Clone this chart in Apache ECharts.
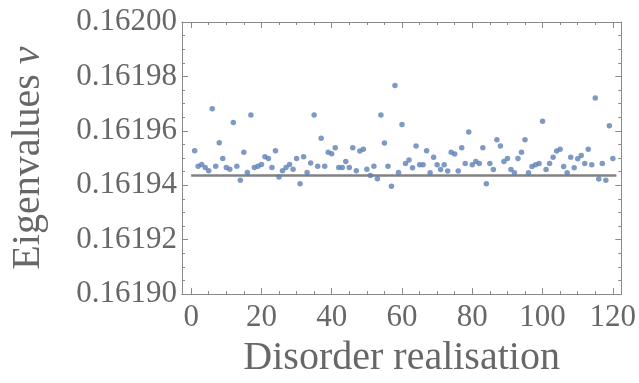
<!DOCTYPE html>
<html>
<head>
<meta charset="utf-8">
<script src="https://cdn.jsdelivr.net/npm/echarts@6/dist/echarts.min.js"></script>
<style>
  html, body { margin: 0; padding: 0; background: #fff; }
  #chart { width: 639px; height: 383px; }
</style>
</head>
<body>
<div id="chart"></div>
<script>
// eigenvalue per disorder realisation (realisations 1..120)
const eigenvalues = [
  0.1619527, 0.1619470, 0.1619476, 0.1619465, 0.1619453, 0.1619681, 0.1619470, 0.1619556, 0.1619498, 0.1619465,
  0.1619459, 0.1619631, 0.1619470, 0.1619418, 0.1619521, 0.1619447, 0.1619658, 0.1619465, 0.1619470, 0.1619476,
  0.1619505, 0.1619498, 0.1619465, 0.1619527, 0.1619430, 0.1619453, 0.1619465, 0.1619476, 0.1619459, 0.1619498,
  0.1619406, 0.1619505, 0.1619447, 0.1619482, 0.1619658, 0.1619470, 0.1619573, 0.1619470, 0.1619521, 0.1619516,
  0.1619538, 0.1619465, 0.1619465, 0.1619487, 0.1619465, 0.1619538, 0.1619453, 0.1619526, 0.1619532, 0.1619459,
  0.1619436, 0.1619470, 0.1619424, 0.1619658, 0.1619555, 0.1619470, 0.1619396, 0.1619767, 0.1619447, 0.1619623,
  0.1619480, 0.1619493, 0.1619464, 0.1619544, 0.1619475, 0.1619475, 0.1619527, 0.1619446, 0.1619503, 0.1619475,
  0.1619458, 0.1619475, 0.1619452, 0.1619521, 0.1619515, 0.1619452, 0.1619538, 0.1619480, 0.1619596, 0.1619475,
  0.1619487, 0.1619480, 0.1619538, 0.1619406, 0.1619480, 0.1619458, 0.1619567, 0.1619544, 0.1619487, 0.1619498,
  0.1619458, 0.1619446, 0.1619498, 0.1619521, 0.1619567, 0.1619446, 0.1619469, 0.1619475, 0.1619480, 0.1619635,
  0.1619458, 0.1619480, 0.1619503, 0.1619526, 0.1619532, 0.1619469, 0.1619446, 0.1619503, 0.1619464, 0.1619497,
  0.1619509, 0.1619480, 0.1619532, 0.1619475, 0.1619721, 0.1619423, 0.1619480, 0.1619418, 0.1619619, 0.1619498
];
// reference level drawn as horizontal line
const refLevel = 0.1619436;
const refSpan = [0, 121];

const xMajor = [0, 20, 40, 60, 80, 100, 120];
const xMinor = [5, 10, 15, 25, 30, 35, 45, 50, 55, 65, 70, 75, 85, 90, 95, 105, 110, 115];
const yMin = 0.16190, yMax = 0.16200, yStep = 0.00002;

const font = "'Liberation Serif', 'DejaVu Serif', serif";
const frame = '#8a8a8a';
const textCol = '#676767';

const chart = echarts.init(document.getElementById('chart'), null, { renderer: 'canvas' });

const xRange = { min: -2.6, max: 122.4 };

function xAx(pos, vals, len, showLabel, extra) {
  return Object.assign({
    type: 'value', position: pos, min: xRange.min, max: xRange.max,
    axisLine: { show: true, onZero: false, lineStyle: { color: frame, width: 1 } },
    axisTick: { show: true, inside: true, length: len, customValues: vals, lineStyle: { color: frame } },
    axisLabel: showLabel
      ? { show: true, customValues: vals, margin: 8, color: textCol, fontSize: 31, fontFamily: font }
      : { show: false, customValues: vals },
    splitLine: { show: false }
  }, extra || {});
}

function yAx(pos, showLabel, extra) {
  return Object.assign({
    type: 'value', position: pos, min: yMin, max: yMax, interval: yStep,
    axisLine: { show: true, onZero: false, lineStyle: { color: frame, width: 1 } },
    axisTick: { show: true, inside: true, length: 6, lineStyle: { color: frame } },
    minorTick: { show: true, splitNumber: 4, length: 3, lineStyle: { color: frame } },
    axisLabel: {
      show: showLabel, margin: 5, color: textCol, fontSize: 31, fontFamily: font,
      formatter: v => v.toFixed(5)
    },
    splitLine: { show: false },
    minorSplitLine: { show: false }
  }, extra || {});
}

chart.setOption({
  animation: false,
  backgroundColor: '#fff',
  grid: { left: 177, right: 12, top: 22, bottom: 83, containLabel: false },
  xAxis: [
    xAx('bottom', xMajor, 6, true, {
      name: 'Disorder realisation', nameLocation: 'middle', nameGap: 40,
      nameTextStyle: { color: textCol, fontSize: 40, fontFamily: font }
    }),
    xAx('bottom', xMinor, 3, false),
    xAx('top', xMajor, 6, false),
    xAx('top', xMinor, 3, false)
  ],
  yAxis: [
    yAx('left', true, {
      name: 'Eigenvalues {i|ν}', nameLocation: 'middle', nameGap: 134,
      nameTextStyle: {
        color: textCol, fontSize: 40, fontFamily: font,
        rich: { i: { fontStyle: 'italic', color: textCol, fontSize: 40, fontFamily: font } }
      }
    }),
    yAx('right', false)
  ],
  series: [
    {
      type: 'line',
      xAxisIndex: 0, yAxisIndex: 0,
      data: refSpan.map(x => [x, refLevel]),
      symbol: 'none',
      silent: true,
      lineStyle: { color: '#828282', width: 2.5 },
      z: 2
    },
    {
      type: 'scatter',
      xAxisIndex: 0, yAxisIndex: 0,
      data: eigenvalues.map((v, i) => [i + 1, v]),
      symbol: 'circle',
      symbolSize: 5.5,
      silent: true,
      emphasis: { disabled: true },
      itemStyle: { color: '#5e81b5' },
      z: 3
    }
  ]
});
</script>
</body>
</html>
